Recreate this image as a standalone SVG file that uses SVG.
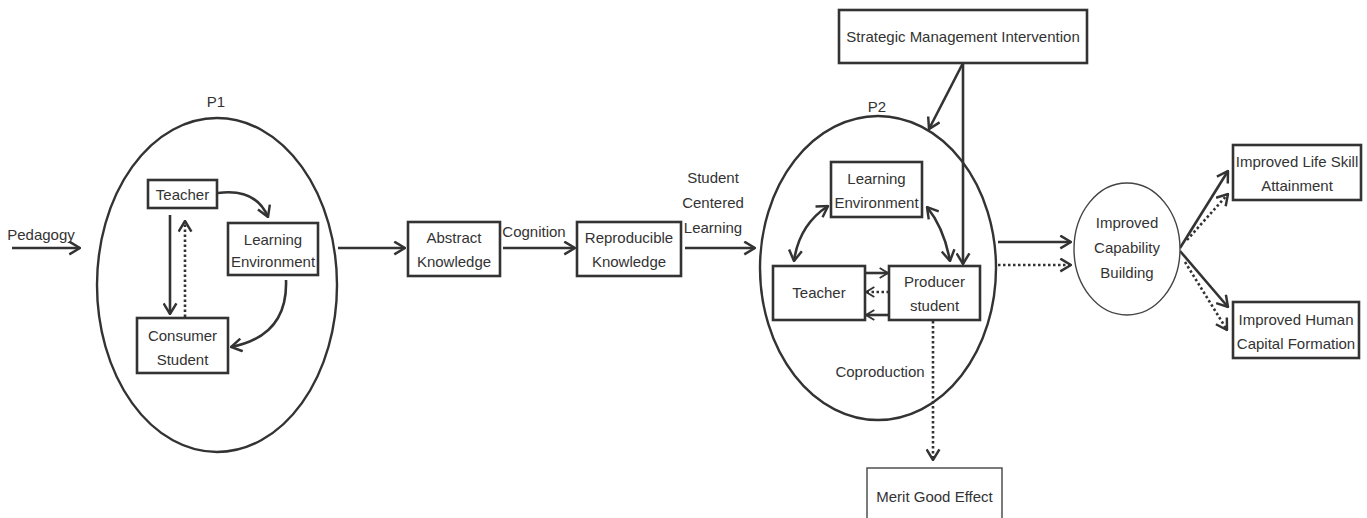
<svg xmlns="http://www.w3.org/2000/svg" width="1367" height="518" viewBox="0 0 1367 518">
<defs>
<marker id="ah" viewBox="0 0 12 14" refX="11" refY="7" markerWidth="13" markerHeight="15" markerUnits="userSpaceOnUse" orient="auto-start-reverse">
<path d="M1,1 L11,7 L1,13" fill="none" stroke="#333" stroke-width="2.3"/>
</marker>
<marker id="ahs" viewBox="0 0 12 14" refX="11" refY="7" markerWidth="10" markerHeight="12" markerUnits="userSpaceOnUse" orient="auto-start-reverse">
<path d="M1,1 L11,7 L1,13" fill="none" stroke="#333" stroke-width="2.2"/>
</marker>
</defs>
<style>
text{font-family:"Liberation Sans",Arial,sans-serif;font-size:15px;fill:#333;text-anchor:middle}
.box{fill:#fff;stroke:#333;stroke-width:2.6}
.thin{fill:#fff;stroke:#444;stroke-width:1.4}
.ring{fill:none;stroke:#333;stroke-width:2.4}
.c{fill:none;stroke:#333;stroke-width:2.6}
.d{fill:none;stroke:#333;stroke-width:2.6;stroke-dasharray:2.5 2.5}
</style>
<rect width="1367" height="518" fill="#fff"/>

<g id="connectors">
<line class="c" x1="12" y1="248" x2="80" y2="248" marker-end="url(#ah)"/>
<path class="c" d="M218,193 Q256,188 268,217" marker-end="url(#ah)"/>
<path class="c" d="M286,280 Q288,336 231,347" marker-end="url(#ah)"/>
<line class="c" x1="170" y1="215" x2="170" y2="314" marker-end="url(#ah)"/>
<line class="d" x1="185" y1="317" x2="185" y2="221" marker-end="url(#ah)"/>
<line class="c" x1="338" y1="248" x2="405" y2="248" marker-end="url(#ah)"/>
<line class="c" x1="503" y1="248" x2="575" y2="248" marker-end="url(#ah)"/>
<line class="c" x1="685" y1="248" x2="755" y2="248" marker-end="url(#ah)"/>
<line class="c" x1="963" y1="63" x2="929" y2="129" marker-end="url(#ah)"/>
<line class="c" x1="963" y1="63" x2="963" y2="264" marker-end="url(#ah)"/>
<path class="c" d="M828,206 Q799,225 794,261" marker-start="url(#ah)" marker-end="url(#ah)"/>
<path class="c" d="M927,207 Q944,228 950,261" marker-start="url(#ah)" marker-end="url(#ah)"/>
<line class="c" x1="865" y1="273" x2="888" y2="273" marker-end="url(#ahs)"/>
<line class="d" x1="889" y1="292" x2="866" y2="292" marker-end="url(#ahs)"/>
<line class="c" x1="889" y1="315" x2="866" y2="315" marker-end="url(#ahs)"/>
<line class="d" x1="933" y1="321" x2="933" y2="460" marker-end="url(#ah)"/>
<line class="c" x1="998" y1="242" x2="1071" y2="242" marker-end="url(#ah)"/>
<line class="d" x1="998" y1="265" x2="1071" y2="265" marker-end="url(#ah)"/>
<line class="c" x1="1180" y1="248" x2="1228" y2="171" marker-end="url(#ah)"/>
<line class="d" x1="1187" y1="240" x2="1228" y2="194" marker-end="url(#ah)"/>
<line class="c" x1="1180" y1="251" x2="1228" y2="307" marker-end="url(#ah)"/>
<line class="d" x1="1185" y1="262" x2="1227" y2="330" marker-end="url(#ah)"/>
</g>

<g id="pedagogy"><text x="41" y="240">Pedagogy</text></g>

<g id="p1">
<ellipse class="ring" cx="217" cy="285" rx="120" ry="167"/>
<text x="216" y="107">P1</text>
</g>
<g id="p1-teacher"><rect class="box" x="148" y="180" width="69" height="28"/><text x="182.5" y="199.5">Teacher</text></g>
<g id="p1-learning-environment"><rect class="box" x="228" y="223" width="90" height="52"/><text x="273" y="245">Learning</text><text x="273" y="267">Environment</text></g>
<g id="p1-consumer-student"><rect class="box" x="137" y="318" width="91" height="55"/><text x="182.5" y="341">Consumer</text><text x="182.5" y="365">Student</text></g>

<g id="abstract-knowledge"><rect class="box" x="408" y="222" width="92" height="54"/><text x="454" y="243">Abstract</text><text x="454" y="267">Knowledge</text></g>
<g id="cognition"><text x="534" y="237">Cognition</text></g>
<g id="reproducible-knowledge"><rect class="box" x="577" y="222" width="104" height="54"/><text x="629" y="243">Reproducible</text><text x="629" y="267">Knowledge</text></g>
<g id="student-centered-learning"><text x="713" y="183">Student</text><text x="713" y="208">Centered</text><text x="713" y="233">Learning</text></g>

<g id="strategic-management"><rect class="box" x="839" y="10" width="248" height="53"/><text x="963" y="42">Strategic Management Intervention</text></g>

<g id="p2">
<ellipse class="ring" cx="878" cy="268" rx="118" ry="152"/>
<text x="877" y="112">P2</text>
</g>
<g id="p2-learning-environment"><rect class="box" x="831" y="162" width="91" height="55"/><text x="876.5" y="184">Learning</text><text x="876.5" y="208">Environment</text></g>
<g id="p2-teacher"><rect class="box" x="773" y="266" width="92" height="54"/><text x="819" y="298">Teacher</text></g>
<g id="p2-producer-student"><rect class="box" x="889" y="266" width="91" height="54"/><text x="934.5" y="287">Producer</text><text x="934.5" y="311">student</text></g>
<g id="coproduction"><text x="880" y="377">Coproduction</text></g>

<g id="merit-good-effect"><rect class="thin" x="867" y="468" width="135" height="60"/><text x="934.5" y="502">Merit Good Effect</text></g>

<g id="capability-building">
<ellipse class="thin" cx="1127" cy="249" rx="53" ry="66"/>
<text x="1127" y="228">Improved</text><text x="1127" y="253">Capability</text><text x="1127" y="278">Building</text>
</g>
<g id="life-skill"><rect class="box" x="1233" y="145" width="128" height="55"/><text x="1297" y="167">Improved Life Skill</text><text x="1297" y="191">Attainment</text></g>
<g id="human-capital"><rect class="box" x="1233" y="302" width="126" height="56"/><text x="1296" y="325">Improved Human</text><text x="1296" y="349">Capital Formation</text></g>
</svg>
